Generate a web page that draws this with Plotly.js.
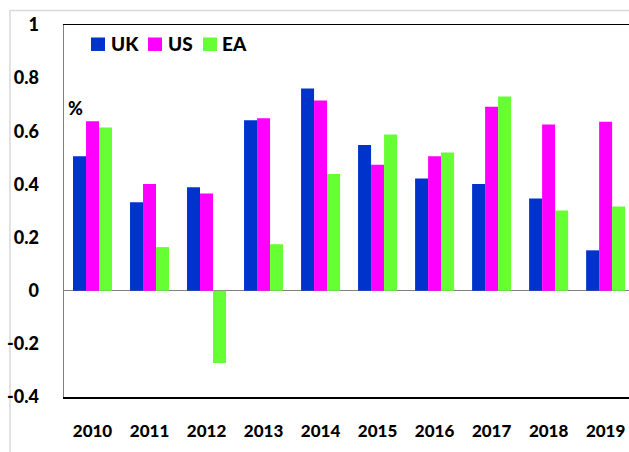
<!DOCTYPE html>
<html><head><meta charset="utf-8">
<script src="https://cdn.plot.ly/plotly-3.0.1.min.js"></script>
<style>html,body{margin:0;padding:0;background:#fff;}#c{width:629px;height:452px;}</style>
</head><body><div id="c"></div>
<script>
const years = ['2010','2011','2012','2013','2014','2015','2016','2017','2018','2019'];
const uk = [0.506,0.333,0.389,0.642,0.761,0.548,0.422,0.402,0.347,0.152];
const us = [0.638,0.402,0.366,0.649,0.716,0.474,0.506,0.692,0.626,0.636];
const ea = [0.614,0.164,-0.272,0.175,0.439,0.588,0.520,0.731,0.302,0.317];
const yTicks = [-0.4,-0.2,0,0.2,0.4,0.6,0.8,1];
const yTickText = ['-0.4','-0.2','0','0.2','0.4','0.6','0.8','1'];
const seriesNames = ['UK','US','EA'];
const seriesColors = ['#0033CC','#FF00FF','#66FF33'];

const font = "Lato, 'Open Sans', sans-serif";
const W = 565, H = 372.5, L = 64, T = 24.5;
const px = v => (v - L) / W;
const py = v => (T + H - v) / H;

const traces = [uk, us, ea].map((vals, i) => ({
  type:'bar', name:seriesNames[i], x:years, y:vals, marker:{color:seriesColors[i]}, showlegend:false
}));

// legend drawn as squares + text
const legSq = [[91,105],[148,162],[203,217]];
const legTx = [109,166,220];
const shapes = [{type:'rect', xref:'paper', yref:'paper', x0:px(10), x1:1.2, y0:-0.3, y1:py(10),
    line:{color:'#d9d9d9', width:1.5}, fillcolor:'rgba(0,0,0,0)', layer:'below'}];
const annotations = [{xref:'paper', yref:'paper', x:px(66), y:py(108), xanchor:'left', yanchor:'middle',
    text:'%', showarrow:false, font:{family:font, size:18, color:'#000', weight:900}}];
seriesNames.forEach((n, i) => {
  shapes.push({type:'rect', xref:'paper', yref:'paper', x0:px(legSq[i][0]), x1:px(legSq[i][1]),
    y0:py(50.5), y1:py(37), line:{width:0}, fillcolor:seriesColors[i]});
  annotations.push({xref:'paper', yref:'paper', x:px(legTx[i]), y:py(43.5), xanchor:'left', yanchor:'middle',
    text:n, showarrow:false, font:{family:font, size:19, color:'#000', weight:900}});
});

const layout = {
  width:629, height:452,
  margin:{l:L, r:0, t:T, b:55, pad:0},
  paper_bgcolor:'#fff', plot_bgcolor:'#fff',
  barmode:'group', bargap:0.316, bargroupgap:0,
  showlegend:false,
  xaxis:{type:'category', range:[-0.5,9.41], showline:true, linecolor:'#000', linewidth:1.5, mirror:true,
    ticks:'', showgrid:false, tickfont:{family:font, size:17, color:'#000', weight:900}, ticklabelstandoff:18},
  yaxis:{range:[-0.4,1], tickvals:yTicks, ticktext:yTickText, showgrid:false,
    showline:true, linecolor:'#808080', linewidth:1.5, zeroline:true, zerolinecolor:'#808080', zerolinewidth:1.5,
    ticks:'', tickfont:{family:font, size:18, color:'#000', weight:900}, ticklabelstandoff:20},
  annotations, shapes
};
Plotly.newPlot('c', traces, layout, {displayModeBar:false, staticPlot:true});
</script></body></html>
